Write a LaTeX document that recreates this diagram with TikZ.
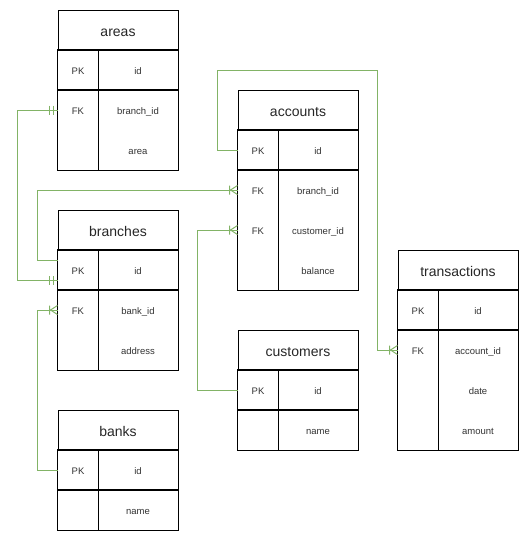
\documentclass[tikz,border=0pt]{standalone}
\usepackage{fontspec}
\setmainfont{Liberation Sans}
\usetikzlibrary{decorations.markings}
\definecolor{relgreen}{HTML}{82B366}
\begin{document}
\begin{tikzpicture}
  [x=1pt,y=-1pt,line width=1pt,
   head/.style={draw,minimum width=120pt,minimum height=40pt,inner sep=0pt,
     text height=12pt,text depth=0pt,
     text=black!85,font=\fontsize{14}{16}\selectfont},
   key/.style={minimum width=40pt,minimum height=40pt,inner sep=0pt,
     text height=8pt,text depth=0pt,
     text=black!80,font=\fontsize{9.5}{11}\selectfont},
   fld/.style={key,minimum width=80pt},
   rel/.style={draw=relgreen,line width=1pt,postaction={decorate}},
   many/.style={decoration={markings,
     mark=at position -8pt with {\draw[relgreen,line width=1pt]
       (0,-4.5pt) -- (0,4.5pt) (8pt,4.5pt) -- (1pt,0) -- (8pt,-4.5pt);}}},
   mone/.style={decoration={markings,
     mark=at position 4pt with {\draw[relgreen,line width=1pt] (0,-4.5pt) -- (0,4.5pt);},
     mark=at position 8pt with {\draw[relgreen,line width=1pt] (0,-4.5pt) -- (0,4.5pt);},
     mark=at position -8pt with {\draw[relgreen,line width=1pt] (0,-4.5pt) -- (0,4.5pt);},
     mark=at position -4pt with {\draw[relgreen,line width=1pt] (0,-4.5pt) -- (0,4.5pt);}}}]
  \useasboundingbox (0,0) rectangle (529,542);

  % areas
  \node[head] (areas) at (118,30) {areas};
  \foreach \k/\f [count=\i] in {PK/id,FK/branch\_id,{}/area}{
    \node[key] (areas-k\i) at (78,30+40*\i) {\k};
    \node[fld] (areas-f\i) at (138,30+40*\i) {\f};
  }
  % accounts
  \node[head] (accounts) at (298,110) {accounts};
  \foreach \k/\f [count=\i] in {PK/id,FK/branch\_id,FK/customer\_id,{}/balance}{
    \node[key] (accounts-k\i) at (258,110+40*\i) {\k};
    \node[fld] (accounts-f\i) at (318,110+40*\i) {\f};
  }
  % branches
  \node[head] (branches) at (118,230) {branches};
  \foreach \k/\f [count=\i] in {PK/id,FK/bank\_id,{}/address}{
    \node[key] (branches-k\i) at (78,230+40*\i) {\k};
    \node[fld] (branches-f\i) at (138,230+40*\i) {\f};
  }
  % banks
  \node[head] (banks) at (118,430) {banks};
  \foreach \k/\f [count=\i] in {PK/id,{}/name}{
    \node[key] (banks-k\i) at (78,430+40*\i) {\k};
    \node[fld] (banks-f\i) at (138,430+40*\i) {\f};
  }
  % customers
  \node[head] (customers) at (298,350) {customers};
  \foreach \k/\f [count=\i] in {PK/id,{}/name}{
    \node[key] (customers-k\i) at (258,350+40*\i) {\k};
    \node[fld] (customers-f\i) at (318,350+40*\i) {\f};
  }
  % transactions
  \node[head] (transactions) at (458,270) {transactions};
  \foreach \k/\f [count=\i] in {PK/id,FK/account\_id,{}/date,{}/amount}{
    \node[key] (transactions-k\i) at (418,270+40*\i) {\k};
    \node[fld] (transactions-f\i) at (478,270+40*\i) {\f};
  }

  % table borders
  \foreach \t/\n in {areas/3,accounts/4,branches/3,banks/2,customers/2,transactions/4}
    \draw (\t-k1.north west) rectangle (\t-f1.south east)
          (\t-k2.north west) rectangle (\t-f\n.south east)
          (\t-k1.north east) -- (\t-k\n.south east);

  % relations
  \draw[rel,mone] (areas-k2.west) -- ++(-40,0) |- ([yshift=-10pt]branches-k1.west);
  \draw[rel,many] ([yshift=10pt]branches-k1.west) -- ++(-20,0) |- (accounts-k2.west);
  \draw[rel,many] (customers-k1.west) -- ++(-40,0) |- (accounts-k3.west);
  \draw[rel,many] (accounts-k1.west) -- ++(-20,0) |- ++(160,-80) |- (transactions-k2.west);
  \draw[rel,many] (banks-k1.west) -- ++(-20,0) |- (branches-k2.west);
\end{tikzpicture}
\end{document}
